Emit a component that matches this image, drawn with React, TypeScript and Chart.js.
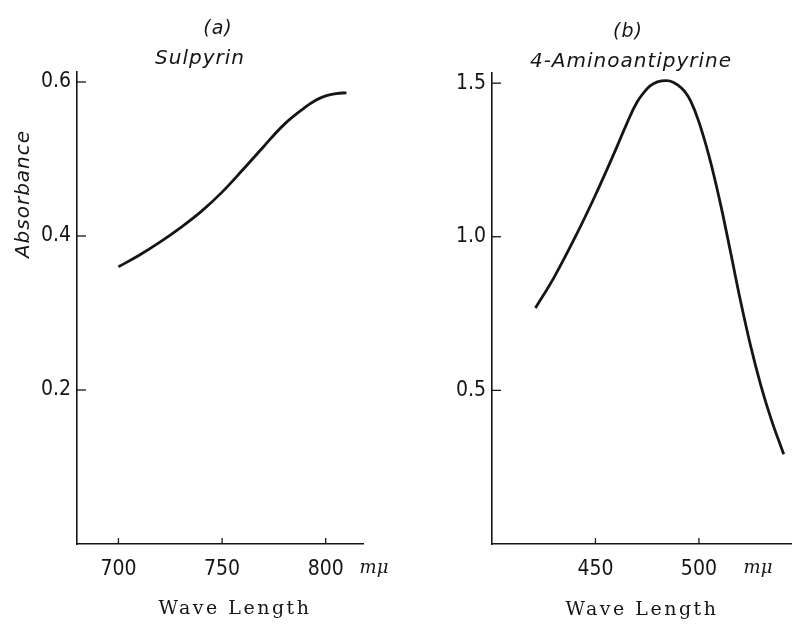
import React, { useEffect, useRef } from "react";
import { Chart, registerables } from "chart.js";

Chart.register(...registerables);

// Panel (a) Sulpyrin
const sulpyrinWave = [700, 710, 720, 730, 740, 750, 760, 770, 780, 790, 795, 800, 805, 810];
const sulpyrinAbs = [0.36, 0.375, 0.392, 0.411, 0.432, 0.457, 0.486, 0.516, 0.545, 0.567, 0.576, 0.582, 0.585, 0.586];
const sulpyrinXTicks = [700, 750, 800];
const sulpyrinYTicks = [0.2, 0.4, 0.6];

// Panel (b) 4-Aminoantipyrine
const aminoWave = [421, 430, 440, 450, 460, 465, 470, 475, 478, 482, 486, 490, 493, 496, 500, 505, 510, 515, 520, 525, 530, 535, 541];
const aminoAbs = [0.768, 0.868, 0.996, 1.136, 1.287, 1.366, 1.437, 1.482, 1.498, 1.507, 1.507, 1.493, 1.474, 1.442, 1.374, 1.26, 1.12, 0.96, 0.795, 0.645, 0.515, 0.405, 0.292];
const aminoXTicks = [450, 500];
const aminoYTicks = [0.5, 1.0, 1.5];

const INK = "#151515";
const TICK_FONT = '"DejaVu Sans Condensed", "DejaVu Sans", sans-serif';
const ITALIC_FONT = '"DejaVu Sans", sans-serif';
const SERIF_FONT = '"DejaVu Serif", "Liberation Serif", serif';

type PanelProps = {
  wave: number[];
  abs: number[];
  xTicks: number[];
  yTicks: number[];
  xMin: number;
  xMax: number;
  yMax: number;
  yWidth: number;
  padRight: number;
  padTop: number;
  label: string;
  name: string;
  labelPos: [number, number];
  namePos: [number, number];
  unitPos: [number, number];
  xTitlePos: [number, number];
  showYTitle: boolean;
  left: number;
};

function Panel(p: PanelProps) {
  const ref = useRef<HTMLCanvasElement | null>(null);
  useEffect(() => {
    if (!ref.current) return;
    const decor = {
      id: "decor",
      afterDraw(chart: any) {
        const ctx = chart.ctx;
        const xs = chart.scales.x;
        const ys = chart.scales.y;
        const area = chart.chartArea;
        ctx.save();
        ctx.strokeStyle = INK;
        ctx.lineWidth = 1.3;
        // inward tick marks
        p.yTicks.forEach((v) => {
          const y = ys.getPixelForValue(v);
          ctx.beginPath();
          ctx.moveTo(area.left, y);
          ctx.lineTo(area.left + 9, y);
          ctx.stroke();
        });
        p.xTicks.forEach((v) => {
          const x = xs.getPixelForValue(v);
          ctx.beginPath();
          ctx.moveTo(x, area.bottom);
          ctx.lineTo(x, area.bottom - 6);
          ctx.stroke();
        });
        ctx.fillStyle = INK;
        ctx.textAlign = "center";
        ctx.textBaseline = "middle";
        (ctx as any).letterSpacing = "1px";
        ctx.font = `italic 19px ${ITALIC_FONT}`;
        ctx.fillText(p.label, p.labelPos[0], p.labelPos[1]);
        ctx.font = `italic 20px ${ITALIC_FONT}`;
        ctx.fillText(p.name, p.namePos[0], p.namePos[1]);
        if (p.showYTitle) {
          ctx.save();
          ctx.translate(24, 194);
          ctx.rotate(-Math.PI / 2);
          ctx.font = `italic 20px ${ITALIC_FONT}`;
          ctx.fillText("Absorbance", 0, 0);
          ctx.restore();
        }
        (ctx as any).letterSpacing = "0px";
        ctx.font = `italic 18px ${SERIF_FONT}`;
        ctx.fillText("mμ", p.unitPos[0], p.unitPos[1]);
        (ctx as any).letterSpacing = "2.5px";
        ctx.font = `19px ${SERIF_FONT}`;
        ctx.fillText("Wave Length", p.xTitlePos[0], p.xTitlePos[1]);
        ctx.restore();
      },
    };
    const chart = new Chart(ref.current, {
      type: "line",
      data: {
        datasets: [
          {
            data: p.wave.map((w, i) => ({ x: w, y: p.abs[i] })),
            borderColor: INK,
            borderWidth: 2.8,
            pointRadius: 0,
            tension: 0.4,
            fill: false,
          },
        ],
      },
      options: {
        animation: false,
        responsive: false,
        maintainAspectRatio: false,
        layout: { padding: { left: 0, right: p.padRight, top: p.padTop, bottom: 0 } },
        plugins: { legend: { display: false }, tooltip: { enabled: false }, title: { display: false } },
        scales: {
          x: {
            type: "linear",
            min: p.xMin,
            max: p.xMax,
            afterFit: (s: any) => {
              s.height = 80;
            },
            afterBuildTicks: (s: any) => {
              s.ticks = p.xTicks.map((v) => ({ value: v }));
            },
            grid: { display: false, drawTicks: false },
            border: { display: true, color: INK, width: 1.6 },
            ticks: {
              color: INK,
              font: { family: TICK_FONT, size: 21 },
              padding: 13,
              callback: (v: any) => String(v),
            },
          },
          y: {
            type: "linear",
            min: 0,
            max: p.yMax,
            afterFit: (s: any) => {
              s.width = p.yWidth;
            },
            afterBuildTicks: (s: any) => {
              s.ticks = p.yTicks.map((v) => ({ value: v }));
            },
            grid: { display: false, drawTicks: false },
            border: { display: true, color: INK, width: 1.6 },
            ticks: {
              color: INK,
              font: { family: TICK_FONT, size: 21 },
              padding: 6,
              callback: (v: any) => Number(v).toFixed(1),
            },
          },
        },
      },
      plugins: [decor],
    });
    return () => chart.destroy();
  }, []);
  return (
    <canvas
      ref={ref}
      width={396}
      height={624}
      style={{ position: "absolute", left: p.left, top: 0, width: 396, height: 624 }}
    />
  );
}

export default function App() {
  return (
    <div style={{ position: "absolute", left: 0, top: 0, width: 792, height: 624, background: "#fff" }}>
      <Panel
        wave={sulpyrinWave}
        abs={sulpyrinAbs}
        xTicks={sulpyrinXTicks}
        yTicks={sulpyrinYTicks}
        xMin={680}
        xMax={818}
        yMax={0.613}
        yWidth={77}
        padRight={33}
        padTop={72}
        label="(a)"
        name="Sulpyrin"
        labelPos={[218, 29]}
        namePos={[200, 59]}
        unitPos={[374, 568]}
        xTitlePos={[235, 609]}
        showYTitle={true}
        left={0}
      />
      <Panel
        wave={aminoWave}
        abs={aminoAbs}
        xTicks={aminoXTicks}
        yTicks={aminoYTicks}
        xMin={400}
        xMax={545}
        yMax={1.533}
        yWidth={96}
        padRight={0}
        padTop={73}
        label="(b)"
        name="4-Aminoantipyrine"
        labelPos={[232, 32]}
        namePos={[235, 62]}
        unitPos={[362, 568]}
        xTitlePos={[246, 610]}
        showYTitle={false}
        left={396}
      />
    </div>
  );
}
